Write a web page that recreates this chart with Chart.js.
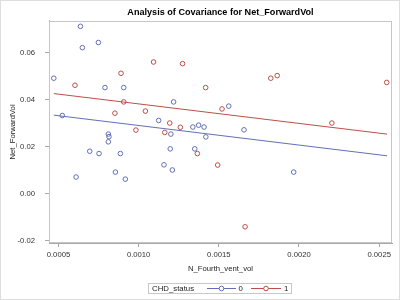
<!DOCTYPE html>
<html>
<head>
<meta charset="utf-8">
<script src="https://cdn.jsdelivr.net/npm/chart.js@4.4.1/dist/chart.umd.min.js"></script>
<style>
  html, body { margin: 0; padding: 0; background: #fff; }
  #wrap { width: 400px; height: 300px; }
</style>
</head>
<body>
<div id="wrap"><canvas id="c" width="400" height="300"></canvas></div>
<script>
// CHD_status = 0
const blueX = [0.000471, 0.000637, 0.000649, 0.000749, 0.00079, 0.000907, 0.000524, 0.001218,
  0.001562, 0.001125, 0.000811, 0.000815, 0.000811, 0.001201, 0.001338, 0.001374, 0.001408,
  0.001419, 0.001657, 0.000695, 0.000753, 0.000886, 0.001197, 0.00135, 0.00061, 0.000855,
  0.000917, 0.001158, 0.00121, 0.001967];
const blueY = [0.0491, 0.0712, 0.0621, 0.0643, 0.0451, 0.0451, 0.0332, 0.0390,
  0.0372, 0.0311, 0.0253, 0.0242, 0.0220, 0.0253, 0.0283, 0.0291, 0.0283,
  0.0241, 0.0271, 0.0180, 0.0170, 0.0170, 0.0190, 0.0190, 0.0070, 0.0091,
  0.0061, 0.0122, 0.0100, 0.0091];

// CHD_status = 1
const redX = [0.000603, 0.00089, 0.001093, 0.001274, 0.001418, 0.001824, 0.001864, 0.002547,
  0.000907, 0.000852, 0.001042, 0.000983, 0.001194, 0.001163, 0.00126, 0.00152, 0.002205,
  0.001366, 0.001493, 0.001664];
const redY = [0.0461, 0.0512, 0.0560, 0.0553, 0.0451, 0.0491, 0.0502, 0.0473,
  0.0390, 0.0342, 0.0351, 0.0270, 0.0300, 0.0260, 0.0282, 0.0360, 0.0300,
  0.0170, 0.0121, -0.0142];

// fitted lines (end points)
const fitX = [0.000471, 0.002549];
const fitBlue = [0.03336, 0.01604];
const fitRed = [0.04255, 0.02528];

const xTicks = [0.0005, 0.0010, 0.0015, 0.0020, 0.0025];
const yTicks = [-0.02, 0.00, 0.02, 0.04, 0.06];

const BLUE = '#6370b6';
const RED = '#bd4f47';
const FONT = '"Liberation Sans", Arial, sans-serif';

const toPoints = (xs, ys) => xs.map((x, i) => ({ x: x, y: ys[i] }));

// frame around the plot, outer border and the legend
const framePlugin = {
    id: 'frame',
    beforeDraw(chart) {
        const ctx = chart.ctx;
        ctx.save();
        ctx.fillStyle = '#fff';
        ctx.fillRect(0, 0, chart.width, chart.height);
        ctx.restore();
    },
    afterDraw(chart) {
        const { ctx, chartArea: a } = chart;
        ctx.save();
        ctx.lineWidth = 1;
        ctx.strokeStyle = '#c6c6c6';
        ctx.strokeRect(Math.round(a.left) + 0.5, Math.round(a.top) + 0.5,
            Math.round(a.right - a.left) - 1, Math.round(a.bottom - a.top) - 1);
        ctx.strokeStyle = '#dedede';
        ctx.strokeRect(0.5, 0.5, chart.width - 1, chart.height - 1);

        // legend
        const ly = 288.5;
        ctx.strokeStyle = '#c8c8c8';
        ctx.strokeRect(148.5, 283.5, 143, 10);
        ctx.font = '7.8px ' + FONT;
        ctx.fillStyle = '#222';
        ctx.textBaseline = 'middle';
        ctx.textAlign = 'left';
        ctx.fillText('CHD_status', 152, ly);
        const items = [[207, 236, 221.5, '0', 238.5, BLUE], [251, 281, 266, '1', 284, RED]];
        items.forEach(([x0, x1, cx, label, tx, col]) => {
            ctx.strokeStyle = col;
            ctx.beginPath();
            ctx.moveTo(x0, ly);
            ctx.lineTo(cx - 2.3, ly);
            ctx.moveTo(cx + 2.3, ly);
            ctx.lineTo(x1, ly);
            ctx.stroke();
            ctx.beginPath();
            ctx.arc(cx, ly, 2.3, 0, Math.PI * 2);
            ctx.stroke();
            ctx.fillStyle = '#222';
            ctx.fillText(label, tx, ly);
        });
        ctx.restore();
    },
};

new Chart(document.getElementById('c'), {
    type: 'scatter',
    data: {
        datasets: [
            {
                label: 'fit 0',
                type: 'line',
                data: toPoints(fitX, fitBlue),
                borderColor: BLUE,
                borderWidth: 1,
                pointRadius: 0,
            },
            {
                label: 'fit 1',
                type: 'line',
                data: toPoints(fitX, fitRed),
                borderColor: RED,
                borderWidth: 1,
                pointRadius: 0,
            },
            {
                label: '0',
                data: toPoints(blueX, blueY),
                borderColor: BLUE,
                backgroundColor: 'rgba(0,0,0,0)',
                pointRadius: 2.3,
                borderWidth: 1,
            },
            {
                label: '1',
                data: toPoints(redX, redY),
                borderColor: RED,
                backgroundColor: 'rgba(0,0,0,0)',
                pointRadius: 2.3,
                borderWidth: 1,
            },
        ],
    },
    options: {
        responsive: false,
        animation: false,
        layout: {
            padding: { left: 0, right: 8, top: 0, bottom: 25 },
        },
        scales: {
            x: {
                type: 'linear',
                min: 0.000441,
                max: 0.00258,
                afterBuildTicks: (scale) => {
                    scale.ticks = xTicks.map((v) => ({ value: v }));
                },
                afterFit: (scale) => {
                    scale.height = 32;
                },
                border: { display: true, color: '#a9a9a9' },
                grid: {
                    drawOnChartArea: false,
                    drawTicks: true,
                    tickLength: 4,
                    color: '#a9a9a9',
                },
                ticks: {
                    autoSkip: false,
                    maxRotation: 0,
                    padding: 3,
                    color: '#333',
                    font: { family: FONT, size: 7.7 },
                    callback: (v) => v.toFixed(4),
                },
                title: {
                    display: true,
                    text: 'N_Fourth_vent_vol',
                    color: '#222',
                    padding: { top: 0, bottom: 1 },
                    font: { family: FONT, size: 7.7 },
                },
            },
            y: {
                type: 'linear',
                min: -0.0211,
                max: 0.0735,
                afterBuildTicks: (scale) => {
                    scale.ticks = yTicks.map((v) => ({ value: v }));
                },
                afterFit: (scale) => {
                    scale.width = 49;
                },
                border: { display: true, color: '#a9a9a9' },
                grid: {
                    drawOnChartArea: false,
                    drawTicks: true,
                    tickLength: 4,
                    color: '#a9a9a9',
                },
                ticks: {
                    autoSkip: false,
                    padding: 10,
                    color: '#333',
                    font: { family: FONT, size: 7.7 },
                    callback: (v) => v.toFixed(2),
                },
                title: {
                    display: true,
                    text: 'Net_ForwardVol',
                    color: '#222',
                    padding: { top: 8, bottom: 0 },
                    font: { family: FONT, size: 7.7 },
                },
            },
        },
        plugins: {
            legend: { display: false },
            tooltip: { enabled: false },
            title: {
                display: true,
                fullSize: false,
                text: 'Analysis of Covariance for Net_ForwardVol',
                color: '#000',
                padding: { top: 7, bottom: 3 },
                font: { family: FONT, size: 9.1, weight: 'bold' },
            },
        },
    },
    plugins: [framePlugin],
});
</script>
</body>
</html>
